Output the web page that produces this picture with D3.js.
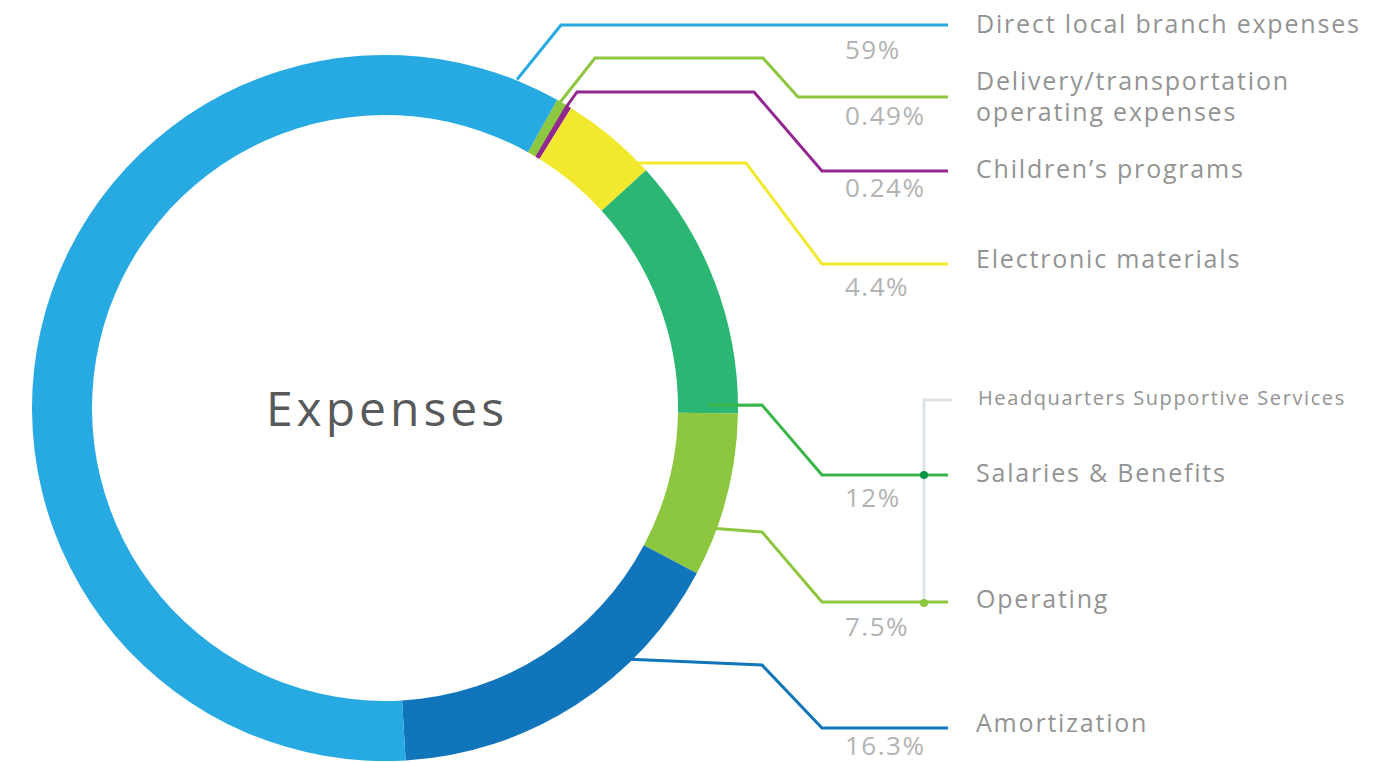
<!DOCTYPE html>
<html>
<head>
<meta charset="utf-8">
<script src="https://cdn.jsdelivr.net/npm/d3@7"></script>
<style>
  body { margin: 0; background: #fff; }
  svg { display: block; font-family: "Open Sans", sans-serif; }
</style>
</head>
<body>
<div class="box"></div>
<script>
// data, clockwise from the top right
const categories = ['Delivery/transportation operating expenses', 'Children\u2019s programs',
  'Electronic materials', 'Salaries & Benefits', 'Operating', 'Amortization', 'Direct local branch expenses'];
const values = [0.49, 0.24, 4.4, 12, 7.5, 16.3, 59];
const pctLabels = ['0.49%', '0.24%', '4.4%', '12%', '7.5%', '16.3%', '59%'];
const sliceColors = ['#8dc63f', '#92278f', '#f2e92f', '#2bb673', '#8dc63f', '#1075bb', '#27a9e1'];
const lineColors = ['#8dc63f', '#92278f', '#f2e92f', '#39b54a', '#8dc63f', '#1075bb', '#27a9e1'];

// leader layout: anchor on ring (angle deg, radius), then bend points
const leaders = [
  { a: 29.8, r: 352, pts: [[595, 58], [763, 58], [798, 97], [948, 97]], lab: [90, 121], pct: 125 },
  { a: 31.2, r: 293, pts: [[567, 106], [577, 92], [754, 92], [822, 171], [948, 171]], lab: [178], pct: 197 },
  { a: 45.9, r: 352, pts: [[746, 163], [822, 264], [948, 264]], lab: [268], pct: 296 },
  { a: 89.5, r: 323, pts: [[762, 405], [822, 475], [948, 475]], lab: [482], pct: 507 },
  { a: 110, r: 352, pts: [[762, 532], [822, 602], [948, 602]], lab: [608], pct: 636 },
  { a: 135.7, r: 351, pts: [[762, 665], [822, 728], [948, 728]], lab: [732], pct: 755 },
  { a: 21.9, r: 354, pts: [[561, 25], [948, 25]], lab: [33], pct: 59 }
];
const labelLines = [['Delivery/transportation', 'operating expenses'], ['Children\u2019s programs'],
  ['Electronic materials'], ['Salaries & Benefits'], ['Operating'], ['Amortization'], ['Direct local branch expenses']];

const width = 1399, height = 762;
const cx = 385, cy = 408, outerR = 353, innerR = 293;
const rad = d => d * Math.PI / 180;

const svg = d3.select('.box').append('svg')
  .attr('width', width)
  .attr('height', height);

const pie = d3.pie().sort(null).value(d => d)
  .startAngle(rad(29.2)).endAngle(rad(29.2) + 2 * Math.PI);
const arc = d3.arc().innerRadius(innerR).outerRadius(outerR);

const ring = svg.append('g').attr('transform', `translate(${cx},${cy})`);
ring.selectAll('path')
  .data(pie(values))
  .join('path')
  .attr('d', arc)
  .attr('fill', (d, i) => sliceColors[i]);

ring.append('text')
  .attr('x', 2)
  .attr('y', 18)
  .attr('text-anchor', 'middle')
  .attr('font-size', 48)
  .attr('fill', '#58595b')
  .attr('letter-spacing', 4)
  .text('Expenses');

// headquarters bracket
const hq = svg.append('g');
hq.append('path')
  .attr('d', 'M952,400 H924 V603')
  .attr('fill', 'none')
  .attr('stroke', '#dde3e8')
  .attr('stroke-width', 3);
hq.append('text')
  .attr('x', 978).attr('y', 405)
  .attr('font-size', 20)
  .attr('letter-spacing', 1.6)
  .attr('fill', '#939393')
  .text('Headquarters Supportive Services');

// leader lines
const line = d3.line();
leaders.forEach((l, i) => {
  const a = rad(l.a);
  const start = [cx + l.r * Math.sin(a), cy - l.r * Math.cos(a)];
  svg.append('path')
    .attr('d', line([start].concat(l.pts)))
    .attr('fill', 'none')
    .attr('stroke', lineColors[i])
    .attr('stroke-width', 3);

  const t = svg.append('text')
    .attr('font-size', 25)
    .attr('letter-spacing', 1.8)
    .attr('fill', '#939393');
  labelLines[i].forEach((s, k) => {
    t.append('tspan').attr('x', 976).attr('y', l.lab[k]).text(s);
  });

  svg.append('text')
    .attr('x', 845).attr('y', l.pct)
    .attr('font-size', 26)
    .attr('letter-spacing', 1.5)
    .attr('fill', '#b3b3b3')
    .text(pctLabels[i]);
});

// dots where the bracket meets the HQ rows
svg.append('circle').attr('cx', 924).attr('cy', 475).attr('r', 4).attr('fill', '#0a9548');
svg.append('circle').attr('cx', 924).attr('cy', 603).attr('r', 4).attr('fill', '#8dc63f');
</script>
</body>
</html>
